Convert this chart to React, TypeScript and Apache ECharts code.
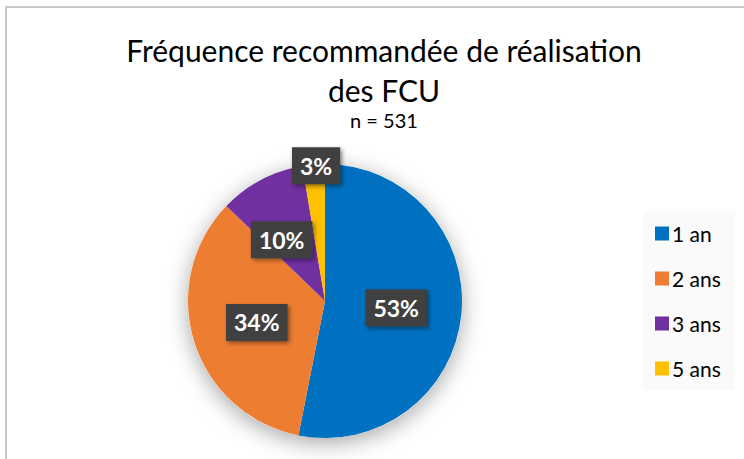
import React, { useEffect, useRef } from "react";
import * as echarts from "echarts";

const categories = ["1 an", "2 ans", "3 ans", "5 ans"];
const counts = [282, 181, 54, 14];
const colors = ["#0070C0", "#ED7D31", "#7030A0", "#FFC000"];
const titleText = "Fréquence recommandée de réalisation\ndes FCU";
const subtitleText = "n = 531";

export default function App() {
  const ref = useRef<HTMLDivElement>(null);
  useEffect(() => {
    if (!ref.current) return;
    const chart = echarts.init(ref.current, undefined, { renderer: "svg" });
    const font = "Lato, 'Open Sans', sans-serif";
    chart.setOption({
      animation: false,
      backgroundColor: "#ffffff",
      textStyle: { fontFamily: font },
      title: {
        text: titleText,
        subtext: subtitleText,
        left: 379,
        textAlign: "center",
        top: 25,
        itemGap: 0,
        textStyle: { fontSize: 30, fontWeight: "normal", color: "#000000", lineHeight: 40, fontFamily: font },
        subtextStyle: { fontSize: 20, color: "#000000", fontFamily: font },
      },
      legend: {
        orient: "vertical",
        left: 643,
        top: 211,
        padding: [12, 14, 11, 12],
        backgroundColor: "#fafafa",
        itemWidth: 14,
        itemHeight: 14,
        itemGap: 24,
        icon: "rect",
        data: categories,
        textStyle: { fontSize: 21, color: "#000000", fontFamily: font, padding: [0, 0, 0, -2] },
      },
      graphic: [
        {
          type: "rect",
          shape: { x: 6, y: 7, width: 800, height: 500 },
          style: { fill: "none", stroke: "#c8c8c8", lineWidth: 2 },
          silent: true,
          z: -10,
        },
      ],
      series: [
        {
          type: "pie",
          silent: true,
          center: [325, 301],
          radius: 137,
          z: 1,
          label: { show: false },
          labelLine: { show: false },
          tooltip: { show: false },
          itemStyle: {
            color: "#ffffff",
            shadowBlur: 22,
            shadowColor: "rgba(0,0,0,0.35)",
            shadowOffsetY: 5,
          },
          data: [{ value: 1, name: "__bg" }],
        },
        {
          type: "pie",
          center: [325, 301],
          radius: 137,
          startAngle: 90,
          clockwise: true,
          z: 2,
          avoidLabelOverlap: false,
          itemStyle: { borderWidth: 0 },
          label: {
            show: true,
            position: "inside",
            formatter: (p: any) => Math.round(p.percent) + "%",
            color: "#ffffff",
            fontSize: 23,
            fontWeight: "bold",
            fontFamily: font,
            backgroundColor: "#404040",
            padding: [8, 8, 6, 8],
            shadowBlur: 4,
            shadowOffsetX: 2,
            shadowOffsetY: 2,
            shadowColor: "rgba(0,0,0,0.45)",
          },
          labelLine: { show: false },
          labelLayout: (params: any) => {
            if (params.dataIndex === 3) return { dx: -3, dy: -64 };
            if (params.dataIndex === 2) return { dx: -10, dy: 2 };
            return {};
          },
          data: categories.map((c, i) => ({
            name: c,
            value: counts[i],
            itemStyle: { color: colors[i] },
          })),
        },
      ],
    });
    return () => chart.dispose();
  }, []);
  return <div ref={ref} style={{ position: "absolute", left: 0, top: 0, width: 744, height: 459 }} />;
}
